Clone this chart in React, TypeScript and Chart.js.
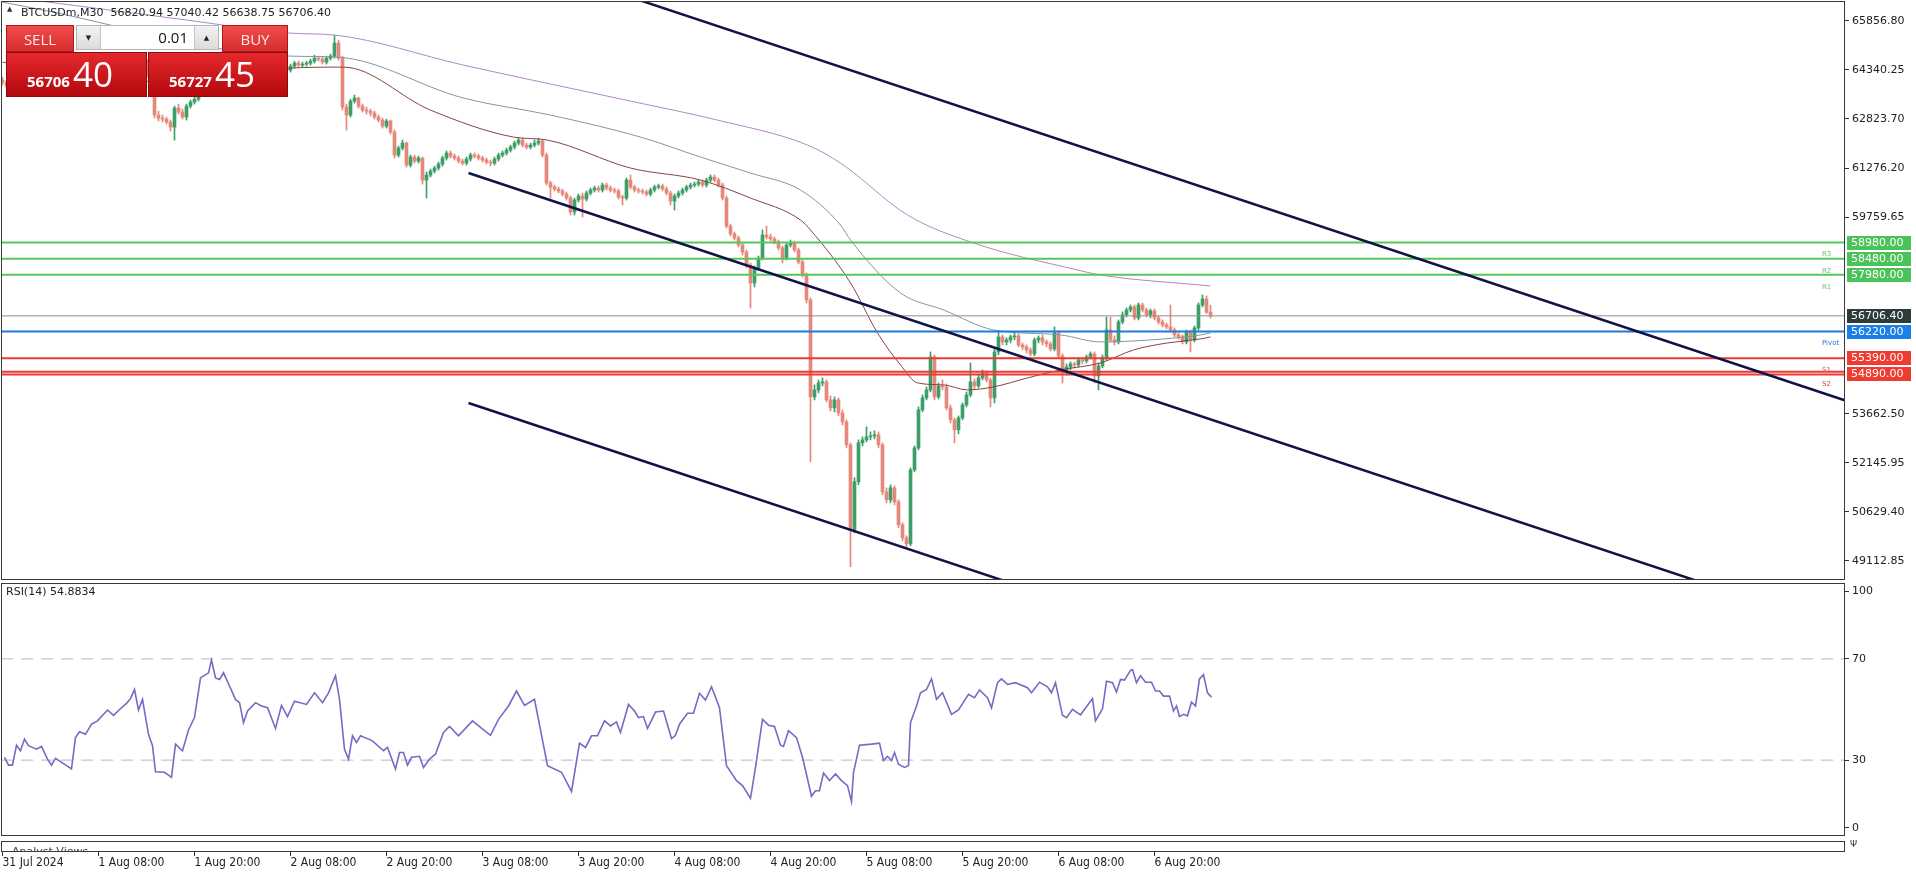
import React, { useEffect, useRef } from 'react';
import { Chart, registerables } from 'chart.js';
Chart.register(...registerables);

// ---------------- DATA ----------------
const OPEN_FIRST = 64020;
const CLOSE = [
63958,63834,63803,64020,63927,64082,64020,63989,63958,63989,
64020,63834,63741,63834,63772,63741,63710,63648,64020,64082,
64051,64113,64206,64237,64268,64330,64423,64361,64392,64423,
64485,64547,64609,64764,64516,64640,64144,63896,62935,62842,
62811,62718,62563,63152,63028,62873,63214,63338,63431,64175,
64392,64516,64795,64547,64516,64671,64609,64516,64361,64330,
64082,64237,64299,64361,64330,64299,64268,64206,64051,64237,
64361,64330,64454,64547,64485,64516,64547,64609,64702,64671,
64578,64702,64764,65167,64702,63183,62935,63369,63462,63214,
63090,63059,62997,62873,62780,62594,62749,62408,61695,61912,
62067,61385,61633,61509,61602,60920,61075,61199,61292,61416,
61602,61757,61664,61602,61509,61447,61571,61695,61664,61602,
61540,61478,61447,61571,61695,61757,61850,61943,62067,62160,
62005,61943,62005,62067,62129,61695,60827,60703,60641,60579,
60486,60362,59928,60300,60424,60331,60517,60610,60672,60610,
60765,60672,60610,60579,60393,60362,60920,60703,60610,60579,
60548,60486,60610,60703,60734,60641,60517,60269,60424,60517,
60610,60703,60765,60796,60858,60765,60920,61013,60920,60765,
60362,59494,59246,59122,58905,58688,58285,57727,58192,58502,
59215,59153,59091,58998,58812,58502,58905,58967,58750,58378,
57975,57200,54193,54410,54627,54658,54100,53852,54100,53697,
53418,52705,50070,51558,52767,52860,52953,52984,53015,52705,
51248,51000,51372,50938,50225,49822,49636,51930,52612,53790,
54162,54410,55433,54193,54534,54503,53852,53480,53170,53542,
53945,54255,54658,54534,54782,54937,54720,54162,55588,56053,
55898,55960,56053,56084,55805,55743,55650,55526,55960,56022,
55898,55836,55681,56177,55464,54968,55123,55216,55185,55340,
55309,55433,55526,54844,55154,55402,56270,55960,55898,56518,
56735,56890,56983,56642,57045,56890,56735,56859,56642,56518,
56425,56363,56270,56115,56053,55898,56208,55960,56332,57045,
57231,56820.94,56706.4
];
const HIGH = [
64113,64020,63896,64082,64051,64144,64144,64082,64051,64051,
64082,64051,63865,63896,63865,63834,63803,63772,64082,64144,
64144,64175,64268,64299,64330,64392,64485,64454,64454,64485,
64547,64609,64671,64826,64795,64702,64671,64206,63927,63059,
62935,62873,62780,63214,63276,63121,63276,63400,63493,64237,
64485,64609,64888,64826,64640,64733,64733,64671,64578,64423,
64361,64299,64361,64423,64423,64392,64361,64330,64268,64299,
64423,64423,64516,64609,64609,64578,64609,64671,64795,64764,
64733,64764,64826,65415,65260,64764,63276,63431,63555,63493,
63276,63183,63121,63059,62935,62842,62811,62780,62470,61974,
62160,62098,61695,61695,61664,61633,61168,61261,61354,61478,
61664,61819,61819,61726,61664,61571,61633,61757,61757,61726,
61664,61602,61540,61633,61757,61819,61912,62005,62129,62222,
62222,62067,62067,62160,62222,62160,61757,60889,60765,60703,
60641,60548,60424,60362,60486,60517,60579,60672,60734,60734,
60827,60827,60734,60672,60641,60455,60982,61075,60765,60672,
60641,60610,60672,60765,60796,60796,60703,60579,60486,60579,
60672,60765,60827,60858,60920,60920,60982,61075,61075,60982,
60827,60424,59556,59308,59184,58967,58750,58347,58254,58564,
59370,59494,59246,59153,59060,58874,58967,59060,59029,58812,
58440,58037,57262,54565,54720,54782,54720,54224,54193,54162,
53790,53480,52767,51682,52860,52953,53263,53108,53139,53108,
52767,51372,51465,51434,51000,50287,49884,51992,52674,53883,
54255,54503,55588,55495,54627,54720,54596,53945,53542,53604,
54007,54348,55247,54751,54875,55030,54999,54782,55712,56208,
56115,56022,56115,56177,56146,55867,55805,55712,56022,56084,
56115,55960,55898,56363,56239,55526,55216,55278,55278,55402,
55402,55495,55588,55588,55247,55495,56673,56673,56084,56580,
56828,56952,57045,57045,57107,57107,56952,56921,56921,56704,
56580,56487,57045,56332,56177,56115,56270,56270,56394,57107,
57355,57324,57040.42
];
const LOW = [
63865,63772,63710,63741,63865,63896,63958,63927,63896,63896,
63927,63772,63648,63710,63710,63679,63617,63555,63617,63958,
63989,63989,64082,64144,64175,64206,64299,64299,64299,64330,
64361,64423,64485,64547,64454,64454,64082,63803,62842,62749,
62718,62656,62439,62160,62966,62811,62780,63152,63276,63369,
64113,64330,64454,64485,64423,64454,64547,64454,64299,64237,
63989,64020,64175,64237,64268,64237,64206,64144,63989,64020,
64175,64268,64268,64392,64423,64423,64454,64485,64547,64609,
64516,64516,64640,64702,64640,63090,62470,62873,63307,63152,
63028,62966,62904,62811,62718,62532,62532,62346,61602,61633,
61850,61323,61323,61447,61447,60796,60362,61013,61137,61230,
61354,61540,61602,61540,61447,61385,61385,61509,61602,61540,
61478,61416,61354,61385,61509,61633,61695,61788,61881,62005,
61943,61881,61881,61943,62005,61633,60765,60362,60579,60517,
60424,60300,59835,59835,60238,59773,60269,60455,60548,60548,
60548,60610,60548,60517,60331,60145,60300,60641,60548,60517,
60486,60424,60424,60548,60641,60579,60455,60145,59990,60362,
60455,60548,60641,60703,60734,60703,60703,60858,60858,60703,
60300,59432,59184,59060,58843,58595,58192,56952,57603,58130,
58440,59091,59029,58936,58750,58347,58440,58843,58688,58316,
57913,57107,52178,54100,54317,54534,54038,53759,53728,53604,
53325,52612,48923,49977,51465,52674,52798,52860,52891,52612,
51155,50907,50907,50845,50132,49729,49543,49574,51868,52550,
53728,54100,54348,54100,54131,54410,53790,53387,52767,53046,
53480,53883,54193,54441,54472,54720,54658,53883,54007,55495,
55805,55805,55867,55960,55743,55650,55557,55464,55464,55867,
55805,55743,55619,55619,55402,54627,54875,55030,55092,55123,
55216,55247,55371,54627,54410,55092,55340,55898,55805,55836,
56456,56673,56828,56580,56580,56828,56673,56642,56580,56456,
56363,56301,56208,56053,55991,55836,55836,55588,55898,56270,
56983,56780,56638.75
];

// moving averages (traced), bar index -> price
const PURPLE_BAR = [0,7.75,46.25,72,83.25,115.25,157,178.75,201.25,209.5,226.25,242.75,268.75,274.5,302];
const PURPLE_VAL = [66624,66500,65880,65477,65415,64485,63369,62780,62005,61447,59835,58967,58130,57975,57634];
const TEAL_BAR = [0,7.75,72,83.75,115.25,137,159.5,174.5,187,199.5,209.5,212,224.5,235.25,247.75,264.5,274.5,287,299.5,302];
const TEAL_VAL = [66438,66252,64764,64733,63462,62935,62253,61633,61137,60610,59525,59060,57417,56890,56270,56115,55898,55960,56115,56177];
const BROWN_BAR = [0,24.5,49.5,72,85.25,107,127.75,136.25,157,174.5,187,199.5,202,212,218.75,224.5,228.75,235.25,241.25,247.75,256.25,264.5,274.5,282.75,291.25,299.5,302];
const BROWN_VAL = [64578,64082,63958,64392,64423,63090,62253,62160,61292,60920,60362,59680,59370,57727,56177,55185,54627,54565,54410,54503,54782,55030,55247,55650,55867,55991,56053];

// trend channel lines: [startBar, endBar], [startPrice, endPrice]
const TREND_BARS = [[159, 461], [116.5, 425], [116.5, 252]];
const TREND_PRICES = [[66510, 54068], [61138, 48428], [54004, 48421]];

// horizontal levels
const LEVEL_PRICES = [58980, 58480, 57980, 56706.4, 56220, 55390, 54975, 54890];
const LEVEL_COLORS = ['#55c75b', '#55c75b', '#55c75b', '#8e8e8e', '#1f7ad6', '#ec3b35', '#ec3b35', '#ec3b35'];
const LEVEL_WIDTHS = [2, 2, 2, 1, 2, 2, 2, 2];
const TAG_PRICES = [58980, 58480, 57980, 56706.4, 56220, 55390, 54890];
const TAG_TEXT = ['58980.00', '58480.00', '57980.00', '56706.40', '56220.00', '55390.00', '54890.00'];
const TAG_BG = ['#4cc25a', '#4cc25a', '#4cc25a', '#2e3b3b', '#1a80e8', '#ef3b30', '#ef3b30'];
const NAME_TEXT = ['R3', 'R2', 'R1', 'Pivot', 'S1', 'S2'];
const NAME_PRICE = [58980, 58480, 57980, 56220, 55390, 54975];
const NAME_COLOR = ['#6cc070', '#6cc070', '#6cc070', '#2a7bd0', '#e04a40', '#e04a40'];

// axes
const PRICE_TICKS = [65856.8, 64340.25, 62823.7, 61276.2, 59759.65, 53662.5, 52145.95, 50629.4, 49112.85];
const PRICE_MIN = 48513;
const PRICE_MAX = 66474;
const TIME_TICKS = [0, 24, 48, 72, 96, 120, 144, 168, 192, 216, 240, 264, 288];
const TIME_LABELS = ['31 Jul 2024', '1 Aug 08:00', '1 Aug 20:00', '2 Aug 08:00', '2 Aug 20:00', '3 Aug 08:00', '3 Aug 20:00', '4 Aug 08:00', '4 Aug 20:00', '5 Aug 08:00', '5 Aug 20:00', '6 Aug 08:00', '6 Aug 20:00'];
const RSI_TICK_VALUES = [96.8, 70, 30, 3.2];
const RSI_TICK_LABELS = ['100', '70', '30', '0'];
const RSI_LEVELS = [70, 30];

// RSI(14) traced
const RSI_BAR = [0.5,1.5,2.5,3.5,4.5,5.5,6.5,8.5,9.75,11.25,12.25,13.25,17.25,18.25,19.25,20.75,22.25,23.75,26.25,27.75,29.75,31,32,33,34,35,36.5,37.5,38.25,40.5,42.25,43.25,45,46.5,48,49.5,51.5,52.25,53.25,54.25,55.25,56.75,58.25,59.25,60.25,61.25,63.25,64.75,66.25,68.25,69.75,71.25,73,76,78,80,81.5,83.25,84.25,85.5,86.5,87.5,88.5,89.5,92.5,95.25,96.25,98.25,99.25,100.25,101.25,102.25,104.25,105.25,106.75,108.25,110.25,111.75,114,117.5,119.5,122,124,126.5,128.5,130.5,133,136.25,139.75,142.25,144.25,145.75,147.25,148.75,150.5,152,153.5,154.5,156.5,158,159,160.25,161.25,163.25,165.25,167.25,168.25,169.25,171.25,172.75,174.25,175.75,177.25,179.25,181,183.5,185,187,188.25,190,191.5,193,194.5,195.25,196.5,198.5,200,202.25,203.25,204.25,205.25,206.75,208.25,209.75,211.25,212.25,212.75,214.25,217.25,219.25,220.25,221.25,222.25,223,224,225.5,226.5,227,228.5,229.5,231,232.25,233.5,235,237.25,239,241.5,243,244.25,246.25,247.25,248.75,249.75,251.25,253.25,256.25,257.25,259.25,261.25,262.25,263.25,265,266,267.5,269.5,272.5,273.25,275,276,277.5,278.5,279.5,280.5,282,282.5,283.5,284.5,285.75,287.25,288.25,289.25,290.25,291.75,292.75,293.5,294.25,295.25,296.25,297.25,298.25,299.25,300.25,301.25,302.25];
const RSI_VAL = [31.1,28,28,35.9,33.7,38.3,35.7,34.3,35.4,30.4,28,30.7,26.5,38.9,41.2,40.2,44.2,45.5,49.8,47.7,50.7,52.4,54.3,57.9,49.8,54,40.2,35.7,25.4,25.2,23.2,36.3,33.7,41.9,46.8,62.5,64.5,69.5,62.5,61.9,64.5,59.3,54,52.7,44.8,49.4,52.7,51.4,50.7,42.5,51.6,47.2,53.3,52,56.6,52.7,56.6,63.4,54,34.3,30.4,39.6,37,39.6,37.6,33.7,35,26.5,33,33,28,31.1,31.5,27.1,30.4,32.4,40.9,43.3,39.6,45.5,42.9,39.8,46.1,51.4,57.3,51.6,54,27.8,25.2,17.6,36.7,35,39.6,39.6,45.5,43.5,45.1,40.9,52,49.4,46.8,47.2,42.5,49,49.4,38.5,39.8,44.2,48.5,48.5,56.4,53.7,59,50.7,27.8,21.9,19.9,14.9,27.1,46.1,43.8,43.3,35.9,35.4,41.6,38.9,31.1,15.7,17.9,17.9,24.9,21.9,24.5,21.9,19.9,13.6,25.1,35.9,36.3,36.7,29.8,31.5,29.8,33,28.4,27.1,27.8,44.8,51.4,56.6,57.9,62.1,54,56.6,48.1,49.8,56,54.7,57.7,54.7,50.7,60.6,62.1,59.9,60.6,58.6,56.6,60.8,59,56.6,60.6,47.7,46.8,50.1,47.9,54.3,45.5,50.3,61.2,60.6,56.9,61.9,61.6,65.5,65.8,60.6,63.4,60.8,60.8,57.3,57.3,55.3,55.3,49.4,51.4,47.2,48.1,47.5,53,51.4,62.1,63.8,56.6,54.88];

// ---------------- STYLE ----------------
const X_MIN = -0.375;
const X_MAX = 460.625;
const GREEN = '#3d9e68';
const RED = '#e6877b';
const FONT = '"DejaVu Sans", sans-serif';
const TICK_COLOR = '#222';
const FRAME = '#3a3a3a';

const framePlugin = {
  id: 'frame',
  afterDraw(chart: any) {
    const { ctx, chartArea: a } = chart;
    ctx.save();
    ctx.strokeStyle = FRAME;
    ctx.lineWidth = 1;
    ctx.strokeRect(Math.round(a.left) + 0.5, Math.round(a.top) + 0.5, Math.round(a.right - a.left) - 1, Math.round(a.bottom - a.top) - 1);
    ctx.restore();
  },
};

const tagPlugin = {
  id: 'tags',
  afterDraw(chart: any) {
    const { ctx } = chart;
    const ys = chart.scales.y;
    ctx.save();
    ctx.textBaseline = 'middle';
    ctx.font = '7px ' + FONT;
    NAME_TEXT.forEach((t, i) => {
      const py = ys.getPixelForValue(NAME_PRICE[i]);
      ctx.fillStyle = NAME_COLOR[i];
      ctx.fillText(t, 1822, py + 12);
    });
    ctx.font = '11px ' + FONT;
    TAG_TEXT.forEach((t, i) => {
      const py = Math.round(ys.getPixelForValue(TAG_PRICES[i]));
      ctx.fillStyle = TAG_BG[i];
      ctx.fillRect(1847, py - 7, 64, 14);
      ctx.fillStyle = '#ffffff';
      ctx.fillText(t, 1851, py + 0.5);
    });
    ctx.restore();
  },
};

function hLine(p: number) {
  return [{ x: X_MIN, y: p }, { x: X_MAX, y: p }];
}

export default function App() {
  const mainRef = useRef<HTMLCanvasElement>(null);
  const rsiRef = useRef<HTMLCanvasElement>(null);
  const timeRef = useRef<HTMLCanvasElement>(null);

  useEffect(() => {
    const charts: Chart[] = [];
    const opens = CLOSE.map((c, i) => (i === 0 ? OPEN_FIRST : CLOSE[i - 1]));
    const wickData = CLOSE.map((_, i) => ({ x: i, y: [LOW[i], HIGH[i]] }));
    const bodyData = CLOSE.map((c, i) => ({ x: i, y: [Math.min(opens[i], c), Math.max(opens[i], c)] }));
    const colors = CLOSE.map((c, i) => (c >= opens[i] ? GREEN : RED));
    const maLine = (bars: number[], vals: number[], color: string) => ({
      type: 'line' as const,
      data: bars.map((b, i) => ({ x: b, y: vals[i] })),
      borderColor: color,
      borderWidth: 1,
      pointRadius: 0,
      cubicInterpolationMode: 'monotone' as const,
      order: 5,
    });

    const datasets: any[] = [
      { type: 'bar', data: wickData, backgroundColor: colors, barThickness: 1, grouped: false, order: 11 },
      { type: 'bar', data: bodyData, backgroundColor: colors, barThickness: 3, grouped: false, minBarLength: 1, order: 10 },
      maLine(PURPLE_BAR, PURPLE_VAL, '#b08ac0'),
      maLine(TEAL_BAR, TEAL_VAL, '#7d98a3'),
      maLine(BROWN_BAR, BROWN_VAL, '#8a4343'),
      ...LEVEL_PRICES.map((p, i) => ({
        type: 'line', data: hLine(p), borderColor: LEVEL_COLORS[i], borderWidth: LEVEL_WIDTHS[i], pointRadius: 0, order: 3,
      })),
      ...TREND_BARS.map((b, i) => ({
        type: 'line', data: [{ x: b[0], y: TREND_PRICES[i][0] }, { x: b[1], y: TREND_PRICES[i][1] }],
        borderColor: '#12124a', borderWidth: 2.5, pointRadius: 0, order: 1,
      })),
    ];

    if (mainRef.current) {
      charts.push(new Chart(mainRef.current, {
        type: 'bar',
        data: { datasets },
        options: {
          responsive: false,
          animation: false,
          devicePixelRatio: 1,
          events: [],
          layout: { padding: { left: 1, top: 1, right: 0, bottom: 2 } },
          plugins: { legend: { display: false }, tooltip: { enabled: false } },
          scales: {
            x: { type: 'linear', min: X_MIN, max: X_MAX, offset: false, display: false, grid: { offset: false } },
            y: {
              type: 'linear', position: 'right', min: PRICE_MIN, max: PRICE_MAX, beginAtZero: false,
              border: { display: false },
              grid: { drawOnChartArea: false, drawTicks: true, tickLength: 4, color: '#333' },
              ticks: {
                autoSkip: false, padding: 3, color: TICK_COLOR, font: { family: FONT, size: 11 },
                callback: (v: any) => Number(v).toFixed(2),
              },
              afterBuildTicks: (s: any) => { s.ticks = PRICE_TICKS.map((v) => ({ value: v })); },
              afterFit: (s: any) => { s.width = 71; s.paddingTop = 0; s.paddingBottom = 0; },
            },
          },
        },
        plugins: [framePlugin, tagPlugin],
      } as any));
    }

    if (rsiRef.current) {
      const n = Math.min(RSI_BAR.length, RSI_VAL.length);
      const rsiData = RSI_BAR.slice(0, n).map((b, i) => ({ x: b, y: RSI_VAL[i] }));
      charts.push(new Chart(rsiRef.current, {
        type: 'line',
        data: {
          datasets: [
            { data: rsiData, borderColor: '#7a68c4', borderWidth: 1.6, pointRadius: 0, order: 1 },
            ...RSI_LEVELS.map((l) => ({ data: hLine(l), borderColor: '#cfa9bf', borderWidth: 1, borderDash: [12, 8], pointRadius: 0, order: 2 })),
          ],
        },
        options: {
          responsive: false,
          animation: false,
          devicePixelRatio: 1,
          events: [],
          layout: { padding: { left: 1, top: 2, right: 0, bottom: 2 } },
          plugins: { legend: { display: false }, tooltip: { enabled: false } },
          scales: {
            x: { type: 'linear', min: X_MIN, max: X_MAX, display: false },
            y: {
              type: 'linear', position: 'right', min: 0, max: 100,
              border: { display: false },
              grid: { drawOnChartArea: false, drawTicks: true, tickLength: 4, color: '#333' },
              ticks: {
                autoSkip: false, padding: 3, color: TICK_COLOR, font: { family: FONT, size: 11 },
                callback: (v: any) => { const k = RSI_TICK_VALUES.indexOf(Number(v)); return k >= 0 ? RSI_TICK_LABELS[k] : ''; },
              },
              afterBuildTicks: (s: any) => { s.ticks = RSI_TICK_VALUES.map((v) => ({ value: v })); },
              afterFit: (s: any) => { s.width = 71; s.paddingTop = 0; s.paddingBottom = 0; },
            },
          },
        },
        plugins: [framePlugin],
      } as any));
    }

    if (timeRef.current) {
      charts.push(new Chart(timeRef.current, {
        type: 'line',
        data: { datasets: [] },
        options: {
          responsive: false,
          animation: false,
          devicePixelRatio: 1,
          events: [],
          layout: { padding: { left: 1, top: 3, right: 71, bottom: 0 } },
          plugins: { legend: { display: false }, tooltip: { enabled: false } },
          scales: {
            x: {
              type: 'linear', position: 'bottom', min: X_MIN, max: X_MAX,
              border: { display: false },
              grid: { drawOnChartArea: false, drawTicks: true, tickLength: 4, color: '#333' },
              ticks: {
                autoSkip: false, align: 'start', padding: 0, minRotation: 0, maxRotation: 0,
                color: TICK_COLOR, font: { family: '"DejaVu Sans Condensed", "DejaVu Sans", sans-serif', size: 12 },
                callback: (v: any) => { const k = TIME_TICKS.indexOf(Number(v)); return k >= 0 ? TIME_LABELS[k] : ''; },
              },
              afterBuildTicks: (s: any) => { s.ticks = TIME_TICKS.map((v) => ({ value: v })); },
              afterFit: (s: any) => { s.height = 22; s.paddingLeft = 0; s.paddingRight = 0; },
            },
            y: { display: false, min: 0, max: 1 },
          },
        },
        plugins: [framePlugin],
      } as any));
    }

    return () => charts.forEach((c) => c.destroy());
  }, []);

  const btnTop = 'linear-gradient(#ef4d4b, #d62d2d)';
  const boxBg = 'linear-gradient(#e5292d, #b3080d)';
  const panelFont = '"Open Sans", sans-serif';

  return (
    <div style={{ position: 'fixed', left: 0, top: 0, width: 1916, height: 874, background: '#ffffff', overflow: 'hidden', fontFamily: FONT }}>
      <canvas ref={mainRef} width={1916} height={582} style={{ position: 'absolute', left: 0, top: 0 }} />
      <canvas ref={rsiRef} width={1916} height={257} style={{ position: 'absolute', left: 0, top: 581 }} />
      <canvas ref={timeRef} width={1916} height={36} style={{ position: 'absolute', left: 0, top: 838 }} />

      {/* title */}
      <div style={{ position: 'absolute', left: 7, top: 5, fontSize: 7, color: '#333' }}>▲</div>
      <div style={{ position: 'absolute', left: 21, top: 5, fontSize: 11, color: '#222', whiteSpace: 'pre', lineHeight: '15px' }}>
        {'BTCUSDm,M30  56820.94 57040.42 56638.75 56706.40'}
      </div>

      {/* one-click trading panel */}
      <div style={{ position: 'absolute', left: 6, top: 25, width: 68, height: 27, background: btnTop, border: '1px solid #b01616', boxSizing: 'border-box', color: '#fde9e9', font: '15px ' + panelFont, display: 'flex', alignItems: 'center', justifyContent: 'center' }}>SELL</div>
      <div style={{ position: 'absolute', left: 76, top: 25, width: 143, height: 25, border: '1px solid #b5b5b5', boxSizing: 'border-box', background: '#fff', display: 'flex' }}>
        <div style={{ width: 23, background: 'linear-gradient(#f2f2f2,#dcdcdc)', borderRight: '1px solid #c4c4c4', fontSize: 7, color: '#222', display: 'flex', alignItems: 'center', justifyContent: 'center' }}>▼</div>
        <div style={{ flex: 1, font: '15px ' + panelFont, color: '#111', textAlign: 'right', paddingRight: 6, lineHeight: '23px' }}>0.01</div>
        <div style={{ width: 23, background: 'linear-gradient(#f2f2f2,#dcdcdc)', borderLeft: '1px solid #c4c4c4', fontSize: 7, color: '#222', display: 'flex', alignItems: 'center', justifyContent: 'center' }}>▲</div>
      </div>
      <div style={{ position: 'absolute', left: 222, top: 25, width: 66, height: 27, background: btnTop, border: '1px solid #b01616', boxSizing: 'border-box', color: '#fde9e9', font: '15px ' + panelFont, display: 'flex', alignItems: 'center', justifyContent: 'center' }}>BUY</div>
      <div style={{ position: 'absolute', left: 6, top: 52, width: 141, height: 45, background: boxBg, border: '1px solid #8e0a0a', boxSizing: 'border-box' }}>
        <div style={{ position: 'absolute', left: 20, top: 0, height: 41, lineHeight: '41px', display: 'flex', alignItems: 'baseline', color: '#fff', fontFamily: panelFont }}>
          <span style={{ fontSize: 15, fontWeight: 700, marginRight: 3 }}>56706</span>
          <span style={{ fontSize: 35 }}>40</span>
        </div>
      </div>
      <div style={{ position: 'absolute', left: 148, top: 52, width: 140, height: 45, background: boxBg, border: '1px solid #8e0a0a', boxSizing: 'border-box' }}>
        <div style={{ position: 'absolute', left: 20, top: 0, height: 41, lineHeight: '41px', display: 'flex', alignItems: 'baseline', color: '#fff', fontFamily: panelFont }}>
          <span style={{ fontSize: 15, fontWeight: 700, marginRight: 3 }}>56727</span>
          <span style={{ fontSize: 35 }}>45</span>
        </div>
      </div>

      {/* RSI title */}
      <div style={{ position: 'absolute', left: 6, top: 585, fontSize: 11, color: '#222', lineHeight: '14px' }}>RSI(14) 54.8834</div>

      {/* analyst views strip */}
      <div style={{ position: 'absolute', left: 12, top: 842, width: 120, height: 9, overflow: 'hidden' }}>
        <div style={{ fontSize: 11, color: '#444', lineHeight: '14px', marginTop: 3 }}>Analyst Views</div>
      </div>
      <div style={{ position: 'absolute', left: 1850, top: 838, fontSize: 9, color: '#333', lineHeight: '12px' }}>Ψ</div>
    </div>
  );
}
